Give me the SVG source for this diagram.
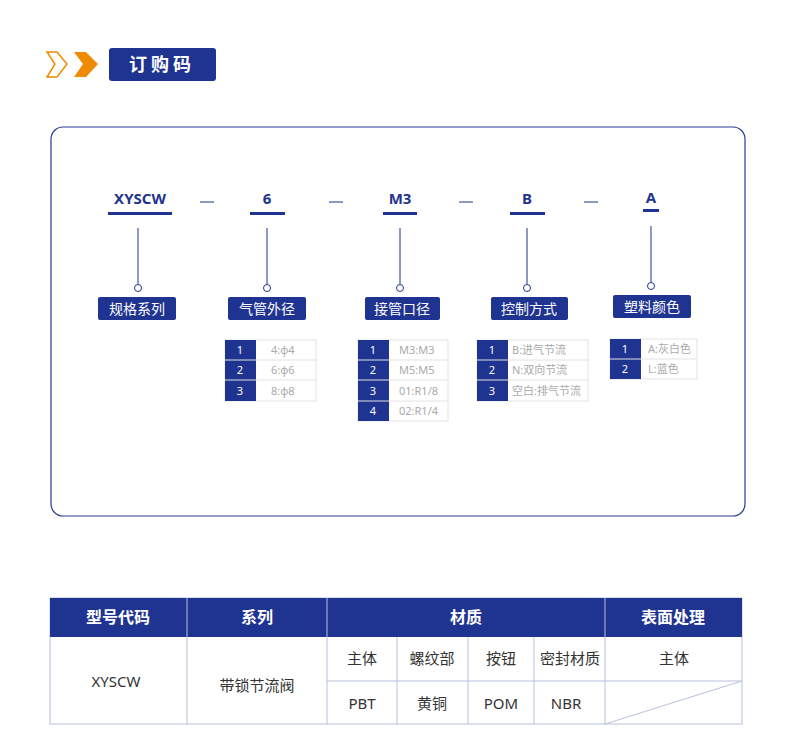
<svg xmlns="http://www.w3.org/2000/svg" width="790" height="739" viewBox="0 0 790 739">
<style>
text{font-family:"Noto Sans","Noto Sans CJK SC",sans-serif}
.code{font-size:15px;font-weight:bold;fill:#1f3390;text-anchor:middle}
.ul{fill:#1f3390}
.lab{fill:#1f3390}
.labt{font-size:14px;fill:#fff;text-anchor:middle}
.n{fill:#1f3390}
.nt{font-size:11px;fill:#fff;text-anchor:middle}
.c{fill:#fff;stroke:#e3e3e3;stroke-width:1}
.ct{font-size:11px;fill:#aaa}
.h{font-size:16px;font-weight:bold;fill:#fff;text-anchor:middle}
.b{font-size:15px;fill:#333;text-anchor:middle}
.g{stroke:#b8c0dc;stroke-width:1}
</style>
<g id="title">
<path d="M47,52 L57,52 L67,64 L57,77 L47,77 L55,64 Z" fill="none" stroke="#f08a00" stroke-width="1.5"/>
<path d="M74,52 L86,52 L98,64 L86,77 L74,77 L83,64 Z" fill="#f08a00"/>
<rect x="109" y="48" width="107" height="33" rx="3" fill="#1f3390"/>
<text x="162" y="71" font-size="18" font-weight="bold" fill="#fff" text-anchor="middle" letter-spacing="4">订购码</text>
</g>
<rect x="51" y="127" width="694" height="389" rx="12" fill="#fff" stroke="#2a3a8f" stroke-width="1.2"/>
<g id="connectors" stroke="#1f3390" stroke-width="1" fill="#fff">
<line x1="200" y1="202" x2="214" y2="202"/><line x1="329" y1="202" x2="343" y2="202"/><line x1="459" y1="202" x2="473" y2="202"/><line x1="584" y1="202" x2="598" y2="202"/>
<line x1="138" y1="228" x2="138" y2="284"/><circle cx="138" cy="288" r="3.5"/>
<line x1="267" y1="228" x2="267" y2="284"/><circle cx="267" cy="288" r="3.5"/>
<line x1="400" y1="228" x2="400" y2="284"/><circle cx="400" cy="288" r="3.5"/>
<line x1="527" y1="228" x2="527" y2="284"/><circle cx="527" cy="288" r="3.5"/>
<line x1="651" y1="226" x2="651" y2="282"/><circle cx="651" cy="286" r="3.5"/>
</g>
<g id="n1"><text class="code" x="140" y="204">XYSCW</text><rect class="ul" x="108" y="212" width="64" height="3"/><rect class="lab" x="98" y="297" width="78" height="23" rx="2"/><text class="labt" x="137" y="314">规格系列</text></g>
<g id="n2"><text class="code" x="267" y="204">6</text><rect class="ul" x="250" y="212" width="35" height="3"/><rect class="lab" x="228" y="297" width="78" height="23" rx="2"/><text class="labt" x="267" y="314">气管外径</text></g>
<g id="n3"><text class="code" x="400" y="204">M3</text><rect class="ul" x="383" y="212" width="34" height="3"/><rect class="lab" x="365" y="297" width="75" height="23" rx="2"/><text class="labt" x="402" y="314">接管口径</text></g>
<g id="n4"><text class="code" x="527" y="204">B</text><rect class="ul" x="510" y="212" width="35" height="3"/><rect class="lab" x="491" y="297" width="77" height="23" rx="2"/><text class="labt" x="529" y="314">控制方式</text></g>
<g id="n5"><text class="code" x="651" y="203">A</text><rect class="ul" x="643" y="209" width="16" height="3"/><rect class="lab" x="613" y="295" width="78" height="23" rx="2"/><text class="labt" x="652" y="312">塑料颜色</text></g>
<g id="t1">
<rect class="c" x="225" y="340" width="91" height="61"/>
<rect class="n" x="225" y="340" width="31" height="61"/>
<line x1="225" y1="360" x2="316" y2="360" stroke="#e3e3e3"/><line x1="225" y1="380" x2="316" y2="380" stroke="#e3e3e3"/>
<text class="nt" x="240" y="354">1</text><text class="nt" x="240" y="374">2</text><text class="nt" x="240" y="395">3</text>
<text class="ct" x="271" y="354">4:ф4</text><text class="ct" x="271" y="374">6:ф6</text><text class="ct" x="271" y="395">8:ф8</text>
</g>
<g id="t2">
<rect class="c" x="358" y="340" width="90" height="81"/>
<rect class="n" x="358" y="340" width="31" height="81"/>
<line x1="358" y1="360" x2="448" y2="360" stroke="#e3e3e3"/><line x1="358" y1="380" x2="448" y2="380" stroke="#e3e3e3"/><line x1="358" y1="401" x2="448" y2="401" stroke="#e3e3e3"/>
<text class="nt" x="373" y="354">1</text><text class="nt" x="373" y="374">2</text><text class="nt" x="373" y="395">3</text><text class="nt" x="373" y="415">4</text>
<text class="ct" x="399" y="354">M3:M3</text><text class="ct" x="399" y="374">M5:M5</text><text class="ct" x="399" y="395">01:R1/8</text><text class="ct" x="399" y="415">02:R1/4</text>
</g>
<g id="t3">
<rect class="c" x="477" y="340" width="111" height="61"/>
<rect class="n" x="477" y="340" width="31" height="61"/>
<line x1="477" y1="360" x2="588" y2="360" stroke="#e3e3e3"/><line x1="477" y1="380" x2="588" y2="380" stroke="#e3e3e3"/>
<text class="nt" x="492" y="354">1</text><text class="nt" x="492" y="374">2</text><text class="nt" x="492" y="395">3</text>
<text class="ct" x="512" y="354">B:进气节流</text><text class="ct" x="512" y="374">N:双向节流</text><text class="ct" x="512" y="395">空白:排气节流</text>
</g>
<g id="t4">
<rect class="c" x="610" y="339" width="87" height="40"/>
<rect class="n" x="610" y="339" width="31" height="40"/>
<line x1="610" y1="359" x2="697" y2="359" stroke="#e3e3e3"/>
<text class="nt" x="625" y="353">1</text><text class="nt" x="625" y="373">2</text>
<text class="ct" x="648" y="353">A:灰白色</text><text class="ct" x="648" y="373">L:蓝色</text>
</g>
<g id="table">
<rect x="50" y="598" width="692" height="126" fill="#fff" class="g"/>
<rect x="50" y="598" width="692" height="39" fill="#1f3390"/>
<line class="g" x1="187" y1="598" x2="187" y2="724"/><line class="g" x1="327" y1="598" x2="327" y2="724"/><line class="g" x1="605" y1="598" x2="605" y2="724"/>
<line class="g" x1="397" y1="637" x2="397" y2="724"/><line class="g" x1="468" y1="637" x2="468" y2="724"/><line class="g" x1="534" y1="637" x2="534" y2="724"/>
<line class="g" x1="327" y1="681" x2="742" y2="681"/>
<line class="g" x1="605" y1="724" x2="742" y2="681"/>
<text class="h" x="118" y="623">型号代码</text><text class="h" x="257" y="623">系列</text><text class="h" x="466" y="623">材质</text><text class="h" x="673" y="623">表面处理</text>
<text class="b" x="116" y="687">XYSCW</text><text class="b" x="257" y="691">带锁节流阀</text>
<text class="b" x="362" y="664">主体</text><text class="b" x="432" y="664">螺纹部</text><text class="b" x="501" y="664">按钮</text><text class="b" x="570" y="664">密封材质</text><text class="b" x="674" y="664">主体</text>
<text class="b" x="362" y="709">PBT</text><text class="b" x="432" y="709">黄铜</text><text class="b" x="501" y="709">POM</text><text class="b" x="566" y="709">NBR</text>
</g>
</svg>
